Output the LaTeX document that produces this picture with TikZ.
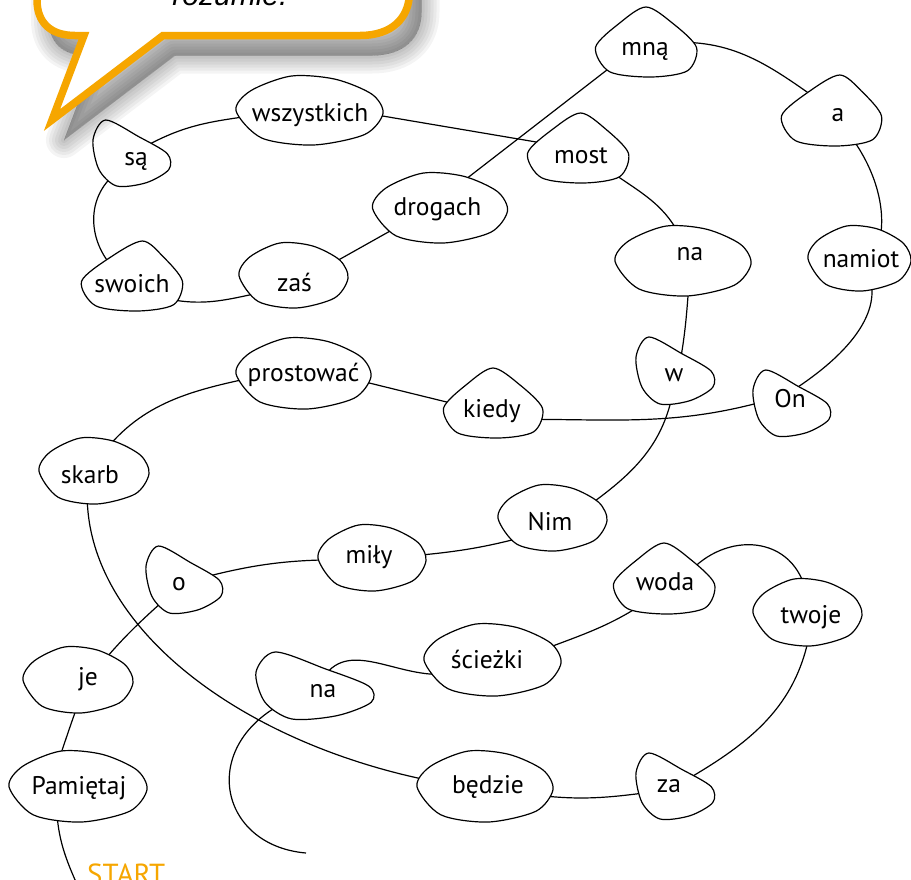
\documentclass[tikz,border=0pt]{standalone}
\usepackage{fontspec}
\setmainfont{PT Sans}
\newfontfamily\bubblefont{Liberation Sans}
\usetikzlibrary{calc}
\definecolor{orng}{RGB}{246,166,0}
\pgfdeclarelayer{bg}
\pgfdeclarelayer{mid}
\pgfsetlayers{bg,mid,main}
\tikzset{
  word/.style={rectangle, inner sep=2pt, text height=18pt, text depth=6pt, font=\fontsize{25.5}{28}\selectfont},
  link/.style={line width=1.2pt},
  blob/.style={line width=1.2pt, fill=white, draw=black},
}
% egg-like blob: name, dx, dy, half width, half height
\newcommand\eggblob[5]{%
  \draw[blob,shift={($(#1.center)+(#2,#3)$)},xscale=#4,yscale=#5] plot[smooth cycle] coordinates
  {(-1,0.02) (-0.8,-0.55) (-0.25,-0.97) (0.35,-0.88) (0.85,-0.45) (1,0.1) (0.75,0.7) (0.05,1) (-0.65,0.8)};}
% rounded triangle, apex on top at x=#6
\newcommand\triupblob[6]{%
  \draw[blob,shift={($(#1.center)+(#2,#3)$)},xscale=#4,yscale=#5] plot[smooth cycle] coordinates
  {(#6,-1) ({#6+(1-#6)*0.5},-0.55) (0.97,0.15) (0.8,0.82) (0.1,1) (-0.7,0.85) (-0.97,0.15) ({#6-(1+#6)*0.5},-0.55)};}
% rounded triangle, corner at top left
\newcommand\trilblob[5]{%
  \draw[blob,shift={($(#1.center)+(#2,#3)$)},xscale=#4,yscale=#5] plot[smooth cycle] coordinates
  {(-0.68,-1) (0.15,-0.5) (0.88,0.02) (0.92,0.5) (0.35,0.9) (-0.4,1) (-0.85,0.5) (-1,-0.4)};}
\newcommand\bubbleshape[1]{%
  \path[#1] (163,35.5) -- (52,120) -- (84,35.5) -- (75,35.5) .. controls (50,35.5) and (37,22) .. (37,0)
   -- (37,-100) -- (409.5,-100) -- (409.5,-8) .. controls (409.5,18) and (392,35.5) .. (360,35.5) -- cycle;}
\begin{document}
\begin{tikzpicture}[x=1pt,y=-1pt]
\useasboundingbox (0,0) rectangle (911,879);

% words
\node[word] (wszystkich) at (310,115) {wszystkich};
\node[word] (sa) at (136,159) {są};
\node[word] (swoich) at (132,286) {swoich};
\node[word] (zas) at (294.5,285) {zaś};
\node[word] (drogach) at (437.5,209) {drogach};
\node[word] (mna) at (645,49) {mną};
\node[word] (a) at (838,115) {a};
\node[word] (most) at (581,157) {most};
\node[word] (naU) at (690,254) {na};
\node[word] (namiot) at (861,261) {namiot};
\node[word] (w) at (674,375) {w};
\node[word] (On) at (790,401) {On};
\node[word] (kiedy) at (492,411) {kiedy};
\node[word] (prostowac) at (303.5,375) {prostować};
\node[word] (skarb) at (90,477) {skarb};
\node[word] (o) at (179,584) {o};
\node[word] (mily) at (369,557) {miły};
\node[word] (je) at (88,679) {je};
\node[word] (pamietaj) at (79,788) {Pamiętaj};
\node[word] (naL) at (323,691) {na};
\node[word] (Nim) at (550,524) {Nim};
\node[word] (woda) at (665,584) {woda};
\node[word] (twoje) at (811,617) {twoje};
\node[word] (sciezki) at (487,662) {ścieżki};
\node[word] (bedzie) at (488,787) {będzie};
\node[word] (za) at (669,786) {za};

\coordinate (startend) at (76,882);
\coordinate (naend) at (306,853);
\node[font=\fontsize{29}{29}\selectfont, text=orng, anchor=base west, inner sep=0] (start) at (87,884) {START};

% connectors
\begin{pgfonlayer}{bg}
\draw[link] (pamietaj.212) to[out=-88,in=114] (startend);
\draw[link] (pamietaj.150) to[out=72,in=250] (je.247);
\draw[link] (je.49) to[out=50,in=222] (o.230);
\draw[link] (o.16) to[out=15,in=180] (mily.186);
\draw[link] (mily.359) to[out=5,in=195] (Nim.207);
\draw[link] (Nim.19) to[out=35,in=260] (w.268);
\draw[link] (w.66) to[out=80,in=265] (naU.271);
\draw[link] (naU.120) to[out=115,in=-35] (most.334);
\draw[link] (most.157) -- (wszystkich.1.5);
\draw[link] (wszystkich.181.5) to[out=188,in=28] (sa.49);
\draw[link] (sa.214) .. controls (82,195) and (88,245) .. (swoich.136);
\draw[link] (swoich.341) to[out=-10,in=190] (zas.194);
\draw[link] (zas.30) -- (drogach.203);
\draw[link] (drogach.60) -- (mna.204);
\draw[link] (mna.14) to[out=3,in=145] (a.140);
\draw[link] (a.297) .. controls (878,170) and (888,215) .. (namiot.40);
\draw[link] (namiot.300) .. controls (882,312) and (850,352) .. (On.60);
\draw[link] (On.174) to[out=196,in=0] (kiedy.345);
\draw[link] (kiedy.170) -- (prostowac.354);
\draw[link] (prostowac.184) to[out=192,in=55] (skarb.68);
\draw[link] (skarb.259) .. controls (84,630) and (250,750) .. (bedzie.176);
\draw[link] (bedzie.350) to[out=-8,in=188] (za.201);
\draw[link] (za.17) to[out=30,in=260] (twoje.266);
\draw[link] (twoje.101) .. controls (800,535) and (730,530) .. (woda.28);
\draw[link] (woda.226) to[out=215,in=22] (sciezki.8);
\draw[link] (sciezki.197) .. controls (400,680) and (350,638) .. (naL.86);
\draw[link] (naL.187) .. controls (195,730) and (212,845) .. (naend);
\end{pgfonlayer}

% blobs
\begin{pgfonlayer}{mid}
\eggblob{wszystkich}{-0.5}{-5}{73.5}{35}
\trilblob{sa}{-3.5}{-6}{39.5}{33}
\triupblob{swoich}{0}{-10}{52}{35}{0.2}
\eggblob{zas}{-1}{-10}{54.5}{33}
\eggblob{drogach}{2.5}{-1.5}{67.5}{35.5}
\triupblob{mna}{1}{-7}{52}{35}{0}
\triupblob{a}{-6.5}{-4.5}{51.5}{35.5}{0.16}
\triupblob{most}{-3}{-9}{52}{35}{0.05}
\eggblob{naU}{-7}{6.5}{68}{35.5}
\eggblob{namiot}{-1.5}{-3}{51.5}{33}
\trilblob{w}{2}{-4.5}{40}{33.5}
\trilblob{On}{2.5}{2}{39.5}{33}
\triupblob{kiedy}{1}{-8}{51}{35}{0}
\eggblob{prostowac}{0}{-2}{67.5}{36}
\eggblob{skarb}{4}{-6.5}{55}{33.5}
\trilblob{o}{6}{-4.5}{39}{33.5}
\eggblob{mily}{3}{0.5}{54}{33.5}
\eggblob{je}{-10}{0.5}{55}{33.5}
\eggblob{pamietaj}{-1}{-2}{69}{36}
\trilblob{naL}{-7}{-5.5}{60}{33.5}
\eggblob{Nim}{2.5}{-6.5}{54.5}{33.5}
\triupblob{woda}{-1}{-5.5}{52}{35.5}{0}
\eggblob{twoje}{-3.5}{-5}{54.5}{34}
\eggblob{sciezki}{5.5}{-2.5}{68.5}{36.5}
\eggblob{bedzie}{-3}{-1}{68}{36}
\trilblob{za}{7}{0}{40}{33}
\end{pgfonlayer}

% speech bubble
\foreach \w in {36,30,24,18,12,6,0} {\bubbleshape{fill=black,draw=black,opacity=0.045,line width=\w pt,line join=round,shift={(12,20)}}}
\bubbleshape{fill=white,draw=orng,line width=7.5pt,line join=miter}
\node[font=\bubblefont\itshape\fontsize{30}{30}\selectfont, anchor=base, inner sep=0] (bubbletext) at (230,5) {rozumie.};
\end{tikzpicture}
\end{document}
